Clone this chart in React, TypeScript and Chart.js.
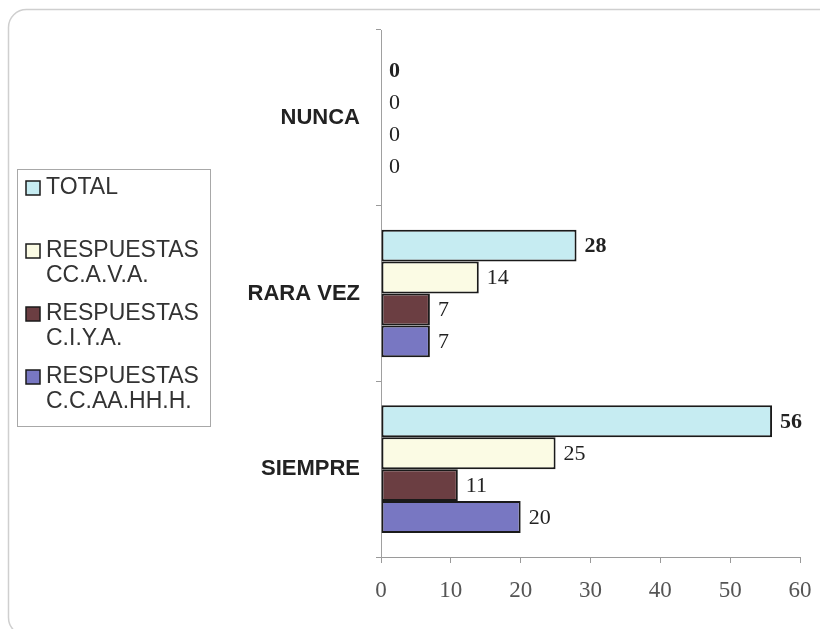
import React, { useEffect, useRef } from 'react';
import { Chart, registerables } from 'chart.js';

Chart.register(...registerables);

const categories = ['NUNCA', 'RARA VEZ', 'SIEMPRE'];
const seriesLabels: string[][] = [
  ['TOTAL'],
  ['RESPUESTAS', 'CC.A.V.A.'],
  ['RESPUESTAS', 'C.I.Y.A.'],
  ['RESPUESTAS', 'C.C.AA.HH.H.'],
];
const totalValues = [0, 28, 56];
const ccavaValues = [0, 14, 25];
const ciyaValues = [0, 7, 11];
const ccaahhhValues = [0, 7, 20];
const seriesColors = ['#c6ecf2', '#fbfbe4', '#6b3e42', '#7877c2'];
const xMin = 0;
const xMax = 60;
const xStep = 10;

const framePlugin = {
  id: 'frame',
  beforeDraw(chart: any) {
    const ctx = chart.ctx;
    ctx.save();
    ctx.fillStyle = '#ffffff';
    ctx.fillRect(0, 0, chart.width, chart.height);
    ctx.strokeStyle = '#cfcfcf';
    ctx.lineWidth = 1.5;
    ctx.beginPath();
    ctx.roundRect(8.5, 9.5, 840, 626, 18);
    ctx.stroke();
    ctx.restore();
  },
};

const legendPlugin = {
  id: 'boxLegend',
  afterDraw(chart: any) {
    const ctx = chart.ctx;
    ctx.save();
    ctx.strokeStyle = '#a8a8a8';
    ctx.lineWidth = 1;
    ctx.strokeRect(17.5, 169.5, 193, 257);
    ctx.font = '23px "Liberation Sans", Arial, sans-serif';
    ctx.textBaseline = 'middle';
    ctx.textAlign = 'left';
    chart.data.datasets.forEach((ds: any, i: number) => {
      const y = 188 + i * 63;
      ctx.fillStyle = ds.backgroundColor;
      ctx.fillRect(26, y - 7, 14, 14);
      ctx.strokeStyle = '#1a1a1a';
      ctx.lineWidth = 1.5;
      ctx.strokeRect(26, y - 7, 14, 14);
      ctx.fillStyle = '#333333';
      const lines: string[] = seriesLabels[i];
      lines.forEach((line, k) => {
        ctx.fillText(line, 46, y + k * 25);
      });
    });
    ctx.restore();
  },
};

const valueLabelPlugin = {
  id: 'valueLabels',
  afterDatasetsDraw(chart: any) {
    const ctx = chart.ctx;
    ctx.save();
    ctx.textBaseline = 'middle';
    ctx.textAlign = 'left';
    ctx.fillStyle = '#222222';
    chart.data.datasets.forEach((ds: any, i: number) => {
      const meta = chart.getDatasetMeta(i);
      ctx.font = (i === 0 ? 'bold ' : '') + '22px "Liberation Serif", "Times New Roman", serif';
      meta.data.forEach((bar: any, j: number) => {
        ctx.fillText(String(ds.data[j]), bar.x + 8, bar.y + 1);
      });
    });
    ctx.restore();
  },
};

export default function App() {
  const canvasRef = useRef<HTMLCanvasElement | null>(null);

  useEffect(() => {
    if (!canvasRef.current) return;
    const values = [totalValues, ccavaValues, ciyaValues, ccaahhhValues];
    const chart = new Chart(canvasRef.current, {
      type: 'bar',
      data: {
        labels: categories,
        datasets: values.map((vals, i) => ({
          label: seriesLabels[i].join(' '),
          data: vals,
          backgroundColor: seriesColors[i],
          borderColor: '#1a1a1a',
          borderWidth: (c: any) => (c.raw === 0 ? 0 : 2),
          borderSkipped: false,
          barPercentage: 1,
          categoryPercentage: 0.727,
        })),
      },
      options: {
        indexAxis: 'y',
        responsive: false,
        animation: false,
        devicePixelRatio: 1,
        layout: { padding: { left: 0, top: 30, right: 20, bottom: 0 } },
        plugins: {
          legend: { display: false },
          tooltip: { enabled: false },
          title: { display: false },
        },
        scales: {
          x: {
            min: xMin,
            max: xMax,
            afterFit(scale: any) {
              scale.height = 72;
              scale.paddingLeft = 0;
              scale.paddingRight = 0;
            },
            ticks: {
              stepSize: xStep,
              color: '#555555',
              padding: 14,
              font: { family: '"Liberation Serif", "Times New Roman", serif', size: 23 },
            },
            grid: {
              drawOnChartArea: false,
              drawTicks: true,
              tickLength: 6,
              color: '#9a9a9a',
            },
            border: { color: '#9a9a9a', width: 1 },
          },
          y: {
            afterFit(scale: any) {
              scale.width = 381;
              scale.paddingTop = 0;
              scale.paddingBottom = 0;
            },
            ticks: {
              color: '#222222',
              padding: 16,
              font: { family: '"Liberation Sans", Arial, sans-serif', size: 22, weight: 'bold' },
            },
            grid: {
              offset: true,
              drawOnChartArea: false,
              drawTicks: true,
              tickLength: 5,
              color: '#9a9a9a',
            },
            border: { color: '#a0a0a0', width: 1 },
          },
        },
      },
      plugins: [framePlugin, legendPlugin, valueLabelPlugin],
    } as any);
    return () => chart.destroy();
  }, []);

  return (
    <div style={{ position: 'absolute', left: 0, top: 0, width: 820, height: 629 }}>
      <canvas ref={canvasRef} width={820} height={629} style={{ display: 'block' }} />
    </div>
  );
}
